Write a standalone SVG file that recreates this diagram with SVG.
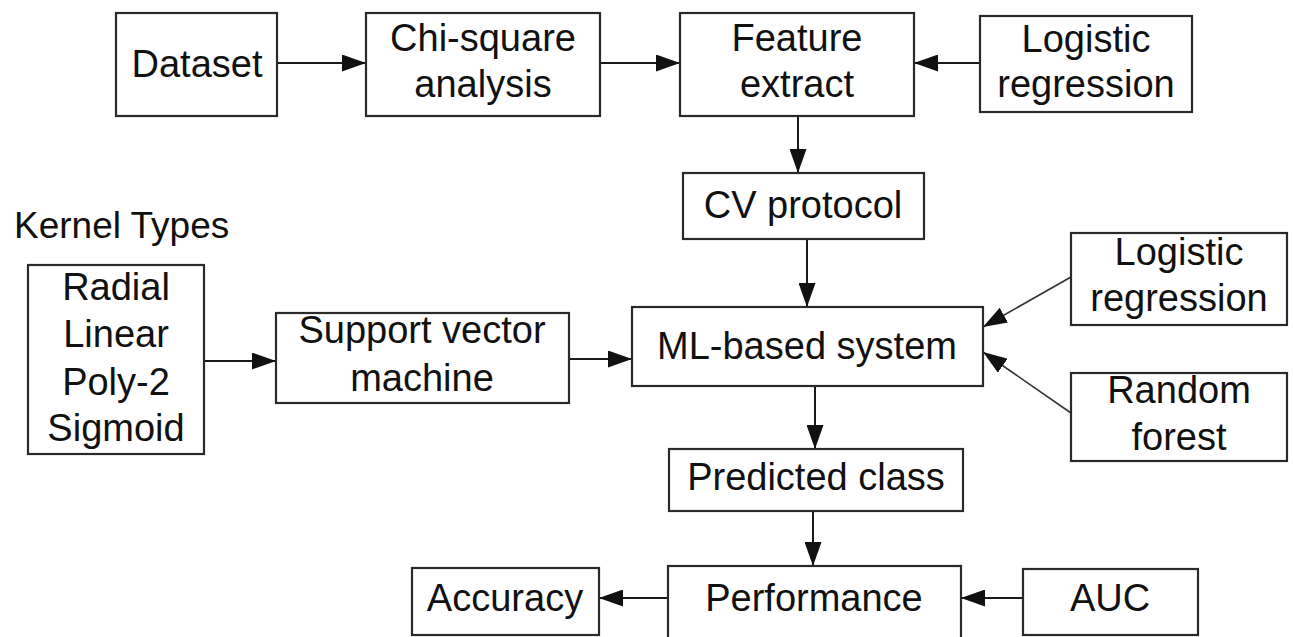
<svg xmlns="http://www.w3.org/2000/svg" width="1293" height="637" viewBox="0 0 1293 637">
<style>
  .box { fill: #ffffff; stroke: #2a2a2a; stroke-width: 2.2; }
  .t { font-family: "Liberation Sans", Arial, sans-serif; font-size: 38px; fill: #111111; text-anchor: middle; }
  .lbl { font-family: "Liberation Sans", Arial, sans-serif; font-size: 37px; fill: #111111; }
  .c { stroke: #1a1a1a; stroke-width: 2; fill: none; marker-end: url(#ah); }
  .d { stroke: #333333; stroke-width: 1.6; fill: none; marker-end: url(#ah); }
</style>
<defs>
  <marker id="ah" markerUnits="userSpaceOnUse" markerWidth="24" markerHeight="17" refX="24" refY="8.5" orient="auto">
    <path d="M0,0 L24,8.5 L0,17 z" fill="#111111"/>
  </marker>
</defs>
<rect x="0" y="0" width="1293" height="637" fill="#ffffff"/>

<g id="connectors">
  <line class="c" x1="277" y1="63" x2="366" y2="63"/>
  <line class="c" x1="600" y1="63" x2="680" y2="63"/>
  <line class="c" x1="980" y1="63" x2="914" y2="63"/>
  <line class="c" x1="798" y1="116" x2="798" y2="173"/>
  <line class="c" x1="807" y1="239" x2="807" y2="307"/>
  <line class="c" x1="204" y1="361" x2="276" y2="361"/>
  <line class="c" x1="569" y1="359" x2="632" y2="359"/>
  <line class="d" x1="1071" y1="277" x2="983" y2="327"/>
  <line class="d" x1="1071" y1="413" x2="983" y2="352"/>
  <line class="c" x1="815" y1="386" x2="815" y2="449"/>
  <line class="c" x1="813" y1="511" x2="813" y2="566"/>
  <line class="c" x1="668" y1="598" x2="599" y2="598"/>
  <line class="c" x1="1023" y1="598" x2="961" y2="598"/>
</g>

<g id="dataset">
  <rect class="box" x="116" y="13" width="161" height="103"/>
  <text class="t" x="197" y="77">Dataset</text>
</g>
<g id="chi-square">
  <rect class="box" x="366" y="13" width="234" height="103"/>
  <text class="t" x="483" y="51">Chi-square</text>
  <text class="t" x="483" y="97">analysis</text>
</g>
<g id="feature-extract">
  <rect class="box" x="680" y="13" width="234" height="103"/>
  <text class="t" x="797" y="51">Feature</text>
  <text class="t" x="797" y="97">extract</text>
</g>
<g id="logistic-top">
  <rect class="box" x="980" y="16" width="212" height="96"/>
  <text class="t" x="1086" y="52">Logistic</text>
  <text class="t" x="1086" y="97">regression</text>
</g>
<g id="cv-protocol">
  <rect class="box" x="683" y="173" width="241" height="66"/>
  <text class="t" x="803" y="218">CV protocol</text>
</g>
<g id="kernel-label">
  <text class="lbl" x="14" y="238">Kernel Types</text>
</g>
<g id="kernel-types">
  <rect class="box" x="28" y="265" width="176" height="189"/>
  <text class="t" x="116" y="300">Radial</text>
  <text class="t" x="116" y="347">Linear</text>
  <text class="t" x="116" y="395">Poly-2</text>
  <text class="t" x="116" y="441">Sigmoid</text>
</g>
<g id="svm">
  <rect class="box" x="276" y="313" width="293" height="90"/>
  <text class="t" x="422" y="343">Support vector</text>
  <text class="t" x="422" y="391">machine</text>
</g>
<g id="ml-system">
  <rect class="box" x="632" y="307" width="351" height="79"/>
  <text class="t" x="807" y="359">ML-based system</text>
</g>
<g id="logistic-right">
  <rect class="box" x="1071" y="233" width="216" height="92"/>
  <text class="t" x="1179" y="265">Logistic</text>
  <text class="t" x="1179" y="311">regression</text>
</g>
<g id="random-forest">
  <rect class="box" x="1071" y="373" width="216" height="88"/>
  <text class="t" x="1179" y="403">Random</text>
  <text class="t" x="1179" y="450">forest</text>
</g>
<g id="predicted-class">
  <rect class="box" x="669" y="449" width="294" height="62"/>
  <text class="t" x="816" y="490">Predicted class</text>
</g>
<g id="performance">
  <rect class="box" x="668" y="566" width="293" height="76"/>
  <text class="t" x="814" y="611">Performance</text>
</g>
<g id="accuracy">
  <rect class="box" x="412" y="568" width="187" height="67"/>
  <text class="t" x="505" y="611">Accuracy</text>
</g>
<g id="auc">
  <rect class="box" x="1023" y="569" width="175" height="66"/>
  <text class="t" x="1110" y="611">AUC</text>
</g>
</svg>
